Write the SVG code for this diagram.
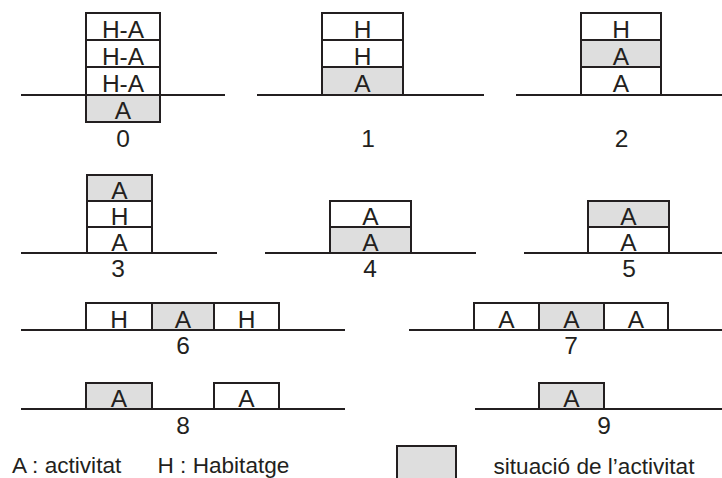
<svg xmlns="http://www.w3.org/2000/svg" width="722" height="478" viewBox="0 0 722 478">
  <style>
    .cell { fill: #ffffff; stroke: #231f20; stroke-width: 2; }
    .act { fill: #dedede; stroke: #231f20; stroke-width: 2; }
    .ground { stroke: #231f20; stroke-width: 2; fill: none; }
    .t { font-family: "Liberation Sans", Arial, sans-serif; font-size: 24.5px; fill: #231f20; text-anchor: middle; }
    .lg { font-family: "Liberation Sans", Arial, sans-serif; font-size: 22.6px; fill: #231f20; }
  </style>
  <rect width="722" height="478" fill="#ffffff"/>

  <!-- 0: three H-A floors over a basement activity -->
  <g id="case0">
    <line class="ground" x1="21" y1="95" x2="225" y2="95"/>
    <rect class="cell" x="86" y="13" width="74" height="27"/>
    <rect class="cell" x="86" y="40" width="74" height="27"/>
    <rect class="cell" x="86" y="67" width="74" height="28"/>
    <rect class="act" x="86" y="95" width="74" height="27"/>
    <text class="t" x="123" y="37.5">H-A</text>
    <text class="t" x="123" y="64.5">H-A</text>
    <text class="t" x="123" y="92">H-A</text>
    <text class="t" x="123" y="118.5">A</text>
    <text class="t" x="123" y="146.5">0</text>
  </g>

  <!-- 1 -->
  <g id="case1">
    <line class="ground" x1="257" y1="95" x2="484" y2="95"/>
    <rect class="cell" x="322" y="13" width="81" height="27"/>
    <rect class="cell" x="322" y="40" width="81" height="27"/>
    <rect class="act" x="322" y="67" width="81" height="28"/>
    <text class="t" x="362.5" y="37.5">H</text>
    <text class="t" x="362.5" y="64.5">H</text>
    <text class="t" x="362.5" y="92">A</text>
    <text class="t" x="368" y="147">1</text>
  </g>

  <!-- 2 -->
  <g id="case2">
    <line class="ground" x1="516" y1="95" x2="722" y2="95"/>
    <rect class="cell" x="581" y="13" width="80" height="27"/>
    <rect class="act" x="581" y="40" width="80" height="27"/>
    <rect class="cell" x="581" y="67" width="80" height="28"/>
    <text class="t" x="621" y="37.5">H</text>
    <text class="t" x="621" y="64.5">A</text>
    <text class="t" x="621" y="92">A</text>
    <text class="t" x="621.5" y="147">2</text>
  </g>

  <!-- 3 -->
  <g id="case3">
    <line class="ground" x1="21" y1="253" x2="217" y2="253"/>
    <rect class="act" x="87" y="175" width="65" height="26"/>
    <rect class="cell" x="87" y="201" width="65" height="26"/>
    <rect class="cell" x="87" y="227" width="65" height="26"/>
    <text class="t" x="119.5" y="198.5">A</text>
    <text class="t" x="119.5" y="224.5">H</text>
    <text class="t" x="119.5" y="250.5">A</text>
    <text class="t" x="118" y="276.5">3</text>
  </g>

  <!-- 4 -->
  <g id="case4">
    <line class="ground" x1="265" y1="253" x2="476" y2="253"/>
    <rect class="cell" x="330" y="201" width="81" height="26"/>
    <rect class="act" x="330" y="227" width="81" height="26"/>
    <text class="t" x="370.5" y="224.5">A</text>
    <text class="t" x="370.5" y="250.5">A</text>
    <text class="t" x="370" y="276.5">4</text>
  </g>

  <!-- 5 -->
  <g id="case5">
    <line class="ground" x1="524" y1="253" x2="722" y2="253"/>
    <rect class="act" x="588" y="201" width="81" height="26"/>
    <rect class="cell" x="588" y="227" width="81" height="26"/>
    <text class="t" x="628.5" y="224.5">A</text>
    <text class="t" x="628.5" y="250.5">A</text>
    <text class="t" x="629" y="276.5">5</text>
  </g>

  <!-- 6 -->
  <g id="case6">
    <line class="ground" x1="21" y1="330" x2="345" y2="330"/>
    <rect class="cell" x="86" y="303" width="66" height="27"/>
    <rect class="act" x="152" y="303" width="62" height="27"/>
    <rect class="cell" x="214" y="303" width="65" height="27"/>
    <text class="t" x="119" y="327.5">H</text>
    <text class="t" x="183" y="327.5">A</text>
    <text class="t" x="246.5" y="327.5">H</text>
    <text class="t" x="183" y="353.5">6</text>
  </g>

  <!-- 7 -->
  <g id="case7">
    <line class="ground" x1="409" y1="330" x2="722" y2="330"/>
    <rect class="cell" x="474" y="303" width="65" height="27"/>
    <rect class="act" x="539" y="303" width="65" height="27"/>
    <rect class="cell" x="604" y="303" width="64" height="27"/>
    <text class="t" x="506.5" y="327.5">A</text>
    <text class="t" x="571.5" y="327.5">A</text>
    <text class="t" x="636" y="327.5">A</text>
    <text class="t" x="571" y="353.5">7</text>
  </g>

  <!-- 8 -->
  <g id="case8">
    <line class="ground" x1="21" y1="409" x2="345" y2="409"/>
    <rect class="act" x="86" y="383" width="66" height="26"/>
    <rect class="cell" x="214" y="383" width="65" height="26"/>
    <text class="t" x="119" y="406.5">A</text>
    <text class="t" x="246.5" y="406.5">A</text>
    <text class="t" x="183" y="433.5">8</text>
  </g>

  <!-- 9 -->
  <g id="case9">
    <line class="ground" x1="475" y1="409" x2="722" y2="409"/>
    <rect class="act" x="539" y="383" width="65" height="26"/>
    <text class="t" x="571.5" y="406.5">A</text>
    <text class="t" x="604" y="433.5">9</text>
  </g>

  <!-- legend -->
  <g id="legend">
    <text class="lg" x="12" y="473">A : activitat</text>
    <text class="lg" x="157.5" y="473">H : Habitatge</text>
    <rect class="act" x="397" y="446" width="59" height="40"/>
    <text class="lg" x="493.5" y="473.5">situació de l’activitat</text>
  </g>
</svg>
